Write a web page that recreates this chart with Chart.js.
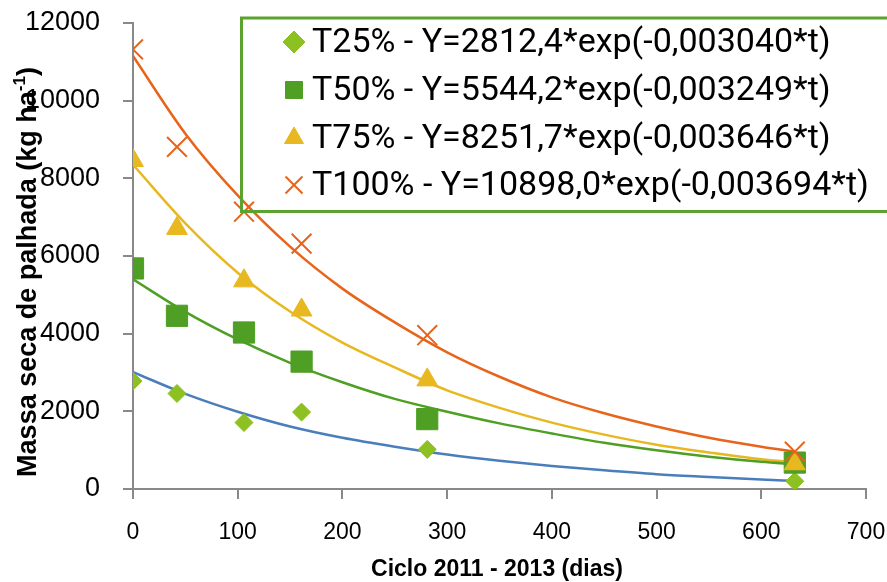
<!DOCTYPE html>
<html>
<head>
<meta charset="utf-8">
<script src="https://cdn.jsdelivr.net/npm/chart.js@4.4.1/dist/chart.umd.min.js"></script>
<style>
  html, body { margin: 0; padding: 0; background: #fff; }
  #wrap { width: 887px; height: 582px; }
</style>
</head>
<body>
<div id="wrap"><canvas id="decompChart" width="887" height="582"></canvas></div>
<script>
// dias do ciclo (pontos observados)
var dias = [0, 42, 106, 161, 281, 632];
var t25 = [2780, 2460, 1710, 1980, 1020, 200];
var t50 = [5680, 4460, 4030, 3280, 1800, 680];
var t75 = [8460, 6710, 5360, 4610, 2810, 650];
var t100 = [11320, 8810, 7140, 6320, 3960, 960];

// curvas de tendencia
var diasCurva = [0, 50, 100, 150, 200, 250, 300, 350, 400, 450, 500, 550, 600, 632];
var curva25 = [3010, 2450, 1990, 1610, 1320, 1090, 890, 730, 595, 480, 380, 310, 245, 210];
var curva50 = [5400, 4560, 3850, 3250, 2750, 2320, 1990, 1690, 1430, 1190, 995, 830, 700, 640];
var curva75 = [8350, 6840, 5570, 4570, 3770, 3130, 2540, 2090, 1710, 1400, 1140, 940, 765, 690];
var curva100 = [11150, 9150, 7560, 6240, 5160, 4290, 3520, 2890, 2360, 1950, 1610, 1320, 1090, 965];

var rotulos = [
    'T25% - Y=2812,4*exp(-0,003040*t)',
    'T50% - Y=5544,2*exp(-0,003249*t)',
    'T75% - Y=8251,7*exp(-0,003646*t)',
    'T100% - Y=10898,0*exp(-0,003694*t)'
];
var tituloX = 'Ciclo 2011 - 2013 (dias)';
var tituloY = 'Massa seca de palhada (kg ha';

function pares(xs, ys) {
    return xs.map(function (x, i) { return { x: x, y: ys[i] }; });
}

function curva(ys, cor) {
    return {
        data: pares(diasCurva, ys),
        showLine: true,
        borderColor: cor,
        borderWidth: 2.5,
        pointRadius: 0,
        cubicInterpolationMode: 'monotone',
        order: 10
    };
}

var datasets = [
    curva(curva25, '#4a7ebb'),
    curva(curva50, '#4e9f24'),
    curva(curva75, '#e8b820'),
    curva(curva100, '#e8641a'),
    { data: pares(dias, t25), pointStyle: 'rectRot', pointRadius: 9, backgroundColor: '#8dc021', borderColor: '#8dc021', borderWidth: 1, order: 4 },
    { data: pares(dias, t50), pointStyle: 'rect', pointRadius: 15, backgroundColor: '#4e9f24', borderColor: '#4e9f24', borderWidth: 1, order: 3 },
    { data: pares(dias, t75), pointStyle: 'triangle', pointRadius: 12, backgroundColor: '#e8b820', borderColor: '#e8b820', borderWidth: 1, order: 2 },
    { data: pares(dias, t100), pointStyle: 'crossRot', pointRadius: 14, backgroundColor: '#e8641a', borderColor: '#e8641a', borderWidth: 2, order: 1 }
];

// legenda e titulos desenhados a mao (posicoes como no original)
var extras = {
    id: 'extras',
    afterDraw: function (chart) {
        var ctx = chart.ctx;
        ctx.save();

        // caixa da legenda
        ctx.strokeStyle = '#5ba22e';
        ctx.lineWidth = 3;
        ctx.strokeRect(241.5, 18, 700, 193.5);

        var linhas = [41, 89, 137, 184];
        var marcas = [
            { pointStyle: 'rectRot', radius: 11, c: '#8dc021', bw: 1 },
            { pointStyle: 'rect', radius: 12, c: '#4e9f24', bw: 1 },
            { pointStyle: 'triangle', radius: 11, c: '#e8b820', bw: 1 },
            { pointStyle: 'crossRot', radius: 12, c: '#e8641a', bw: 2 }
        ];
        ctx.font = '34px Roboto';
        ctx.textBaseline = 'middle';
        ctx.textAlign = 'left';
        for (var i = 0; i < rotulos.length; i++) {
            var m = marcas[i];
            ctx.fillStyle = m.c;
            ctx.strokeStyle = m.c;
            ctx.lineWidth = m.bw;
            Chart.helpers.drawPoint(ctx, { pointStyle: m.pointStyle, radius: m.radius, borderWidth: m.bw, rotation: 0 }, 294, linhas[i] + 1);
            ctx.fillStyle = '#000';
            ctx.fillText(rotulos[i], 312, linhas[i] + 2);
        }

        // titulo eixo x
        ctx.font = 'bold 23px "Liberation Sans"';
        ctx.textAlign = 'center';
        ctx.fillStyle = '#000';
        ctx.fillText(tituloX, 497, 570);

        // titulo eixo y (com expoente)
        ctx.translate(29, 272);
        ctx.rotate(-Math.PI / 2);
        ctx.textAlign = 'left';
        var fGrande = 'bold 27px "Liberation Sans"';
        var fPeq = 'bold 17px "Liberation Sans"';
        ctx.font = fGrande;
        var w1 = ctx.measureText(tituloY).width;
        var w3 = ctx.measureText(')').width;
        ctx.font = fPeq;
        var w2 = ctx.measureText('-1').width;
        var x0 = -(w1 + w2 + w3) / 2;
        ctx.font = fGrande;
        ctx.fillText(tituloY, x0, 0);
        ctx.font = fPeq;
        ctx.fillText('-1', x0 + w1, -9);
        ctx.font = fGrande;
        ctx.fillText(')', x0 + w1 + w2, 0);

        ctx.restore();
    }
};

var ctx = document.getElementById('decompChart').getContext('2d');
var chart = new Chart(ctx, {
    type: 'scatter',
    data: { datasets: datasets },
    options: {
        responsive: false,
        animation: false,
        layout: { padding: { left: 0, top: 23, right: 21, bottom: 0 } },
        plugins: {
            legend: { display: false },
            tooltip: { enabled: false }
        },
        scales: {
            x: {
                type: 'linear',
                min: 0,
                max: 700,
                ticks: {
                    stepSize: 100,
                    color: '#000',
                    padding: 20,
                    font: { family: 'Liberation Sans', size: 23 },
                    callback: function (v) { return String(v); }
                },
                grid: { drawOnChartArea: false, drawTicks: true, tickLength: 10, color: '#898989', lineWidth: 2 },
                border: { display: true, color: '#898989', width: 2 },
                afterFit: function (scale) {
                    scale.height = 93;
                    scale.paddingLeft = 0;
                    scale.paddingRight = 0;
                }
            },
            y: {
                type: 'linear',
                min: 0,
                max: 12000,
                ticks: {
                    stepSize: 2000,
                    color: '#000',
                    padding: 23,
                    font: { family: 'Liberation Sans', size: 27 },
                    callback: function (v) { return String(v); }
                },
                grid: { drawOnChartArea: false, drawTicks: true, tickLength: 10, color: '#898989', lineWidth: 2 },
                border: { display: true, color: '#898989', width: 2 },
                afterFit: function (scale) {
                    scale.width = 133;
                    scale.paddingTop = 0;
                    scale.paddingBottom = 0;
                }
            }
        }
    },
    plugins: [extras]
});
</script>
</body>
</html>
